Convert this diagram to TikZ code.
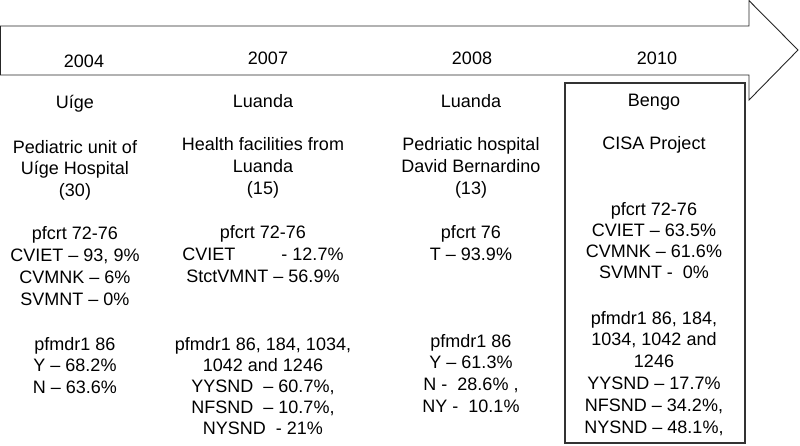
\documentclass[tikz,border=0pt]{standalone}
\usepackage{fontspec}
\setmainfont{Liberation Sans}
\begin{document}
\begin{tikzpicture}[x=1pt,y=-1pt,
  lbl/.style={anchor=base, inner sep=0pt, font=\fontsize{18}{21.7}\selectfont, text=black},
  outline/.style={draw=black!85, line width=0.9pt},
  framebox/.style={draw=black!80, line width=1.1pt}]
\useasboundingbox (0,0) rectangle (800,445);
% timeline arrow
\draw[outline] (0.5,26) -- (749,26) -- (749,0.6) -- (798,50) -- (749,100) -- (749,75) -- (0.5,75) -- cycle;
% Bengo frame
\draw[framebox] (565,83) rectangle (745,443);
% years
\node[lbl] (y1) at (84,67) {2004};
\node[lbl] (y2) at (268,64) {2007};
\node[lbl] (y3) at (472,64) {2008};
\node[lbl] (y4) at (657,64) {2010};
% places
\node[lbl] (p1) at (75,108) {Uíge};
\node[lbl] (p2) at (263,107) {Luanda};
\node[lbl] (p3) at (471,107) {Luanda};
\node[lbl] (p4) at (654,106) {Bengo};
% column 1
\foreach \t [count=\i from 0] in {Pediatric unit of, Uíge Hospital, (30)}
  \node[lbl] (a1\i) at (75,153+21.9*\i) {\t};
\foreach \t [count=\i from 0] in {pfcrt 72-76, {CVIET – 93, 9\%}, CVMNK – 6\%, SVMNT – 0\%}
  \node[lbl] (b1\i) at (75,239+22.2*\i) {\t};
\foreach \t [count=\i from 0] in {pfmdr1 86, Y – 68.2\%, N – 63.6\%}
  \node[lbl] (c1\i) at (75,350+21.6*\i) {\t};
% column 2
\foreach \t [count=\i from 0] in {Health facilities from, Luanda, (15)}
  \node[lbl] (a2\i) at (263,150+22.3*\i) {\t};
\foreach \t [count=\i from 0] in {pfcrt 72-76, CVIET\hspace{46pt}- 12.7\%, StctVMNT – 56.9\%}
  \node[lbl] (b2\i) at (263,238+22*\i) {\t};
\foreach \t [count=\i from 0] in {{pfmdr1 86, 184, 1034,}, 1042 and 1246, {YYSND \ – 60.7\%,}, {NFSND \ – 10.7\%,}, NYSND \ - 21\%}
  \node[lbl] (c2\i) at (263,350+21*\i) {\t};
% column 3
\foreach \t [count=\i from 0] in {Pedriatic hospital, David Bernardino, (13)}
  \node[lbl] (a3\i) at (471,150+22.3*\i) {\t};
\foreach \t [count=\i from 0] in {pfcrt 76, T – 93.9\%}
  \node[lbl] (b3\i) at (471,238+22*\i) {\t};
\foreach \t [count=\i from 0] in {pfmdr1 86, Y – 61.3\%, {N - \ 28.6\% ,}, NY - \ 10.1\%}
  \node[lbl] (c3\i) at (471,347+21.7*\i) {\t};
% column 4
\node[lbl] (a40) at (654,149) {CISA Project};
\foreach \t [count=\i from 0] in {pfcrt 72-76, CVIET – 63.5\%, CVMNK – 61.6\%, SVMNT - \ 0\%}
  \node[lbl] (b4\i) at (654,215+21.3*\i) {\t};
\foreach \t [count=\i from 0] in {{pfmdr1 86, 184,}, {1034, 1042 and}, 1246, YYSND – 17.7\%, {NFSND – 34.2\%,}, {NYSND – 48.1\%,}}
  \node[lbl] (c4\i) at (654,324+21.8*\i) {\t};
\end{tikzpicture}
\end{document}
